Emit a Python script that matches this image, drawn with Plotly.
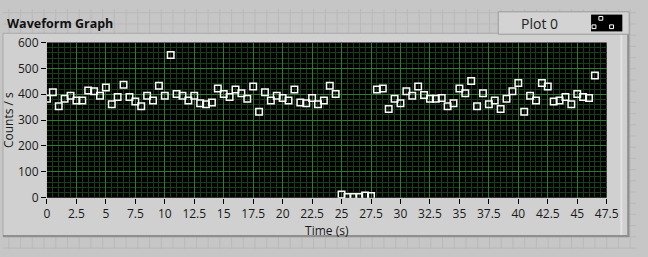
import plotly.graph_objects as go

# ---- data ----
dt = 0.5
counts = [383, 408, 354, 383, 394, 376, 376, 415, 412, 394,
          426, 361, 390, 437, 390, 372, 354, 394, 376, 433,
          394, 552, 401, 394, 376, 394, 365, 361, 368, 422,
          401, 390, 419, 404, 383, 430, 332, 408, 376, 394,
          386, 376, 419, 368, 365, 386, 361, 376, 433, 401,
          12, 2, 2, 2, 8, 6, 419, 422, 343, 383,
          365, 412, 394, 430, 397, 383, 383, 386, 354, 365,
          422, 404, 451, 354, 404, 361, 376, 343, 383, 412,
          444, 332, 394, 376, 444, 430, 372, 376, 390, 361,
          401, 390, 386, 473]
times = [i * dt for i in range(len(counts))]
x_ticks = [i * 2.5 for i in range(20)]
x_tick_labels = [("%g" % v) for v in x_ticks]
y_ticks = [0, 100, 200, 300, 400, 500, 600]
x_range = [0, 47.5]
y_range = [0, 600]

W, H = 648, 257
FONT = "Open Sans"
PLOT_L, PLOT_R, PLOT_T, PLOT_B = 45, 618, 36, 202

def px(x):
    return x / W

def py(y):
    return 1 - y / H

fig = go.Figure()
fig.add_trace(go.Scatter(
    x=times, y=counts, mode="markers", name="Plot 0",
    marker=dict(symbol="square-open", size=6.5, color="white",
                line=dict(width=1.5, color="white")),
    showlegend=False,
))

shapes = []
# panel background grid (LabVIEW front panel)
for gx in range(6, W, 12):
    shapes.append(dict(type="line", xref="paper", yref="paper",
                       x0=px(gx), x1=px(gx), y0=0, y1=1,
                       line=dict(color="#b9b9b9", width=1), layer="below"))
for gy in range(4, H, 12):
    shapes.append(dict(type="line", xref="paper", yref="paper",
                       x0=0, x1=1, y0=py(gy), y1=py(gy),
                       line=dict(color="#b9b9b9", width=1), layer="below"))
# graph frame
shapes.append(dict(type="rect", xref="paper", yref="paper",
                   x0=px(0), x1=px(641), y0=py(244), y1=py(26),
                   fillcolor="#d0d0d0", line=dict(color="#a8a8a8", width=1),
                   layer="below"))
shapes.append(dict(type="line", xref="paper", yref="paper",
                   x0=px(633), x1=px(633), y0=py(243), y1=py(27),
                   line=dict(color="#e2e2e2", width=2), layer="below"))
shapes.append(dict(type="line", xref="paper", yref="paper",
                   x0=px(640), x1=px(640), y0=py(244), y1=py(26),
                   line=dict(color="#8f8f8f", width=2), layer="below"))
shapes.append(dict(type="line", xref="paper", yref="paper",
                   x0=px(0), x1=px(641), y0=py(243), y1=py(243),
                   line=dict(color="#8f8f8f", width=2), layer="below"))
# plot area background (black) on top of the frame
shapes.append(dict(type="rect", xref="paper", yref="paper",
                   x0=px(PLOT_L), x1=px(PLOT_R), y0=py(PLOT_B), y1=py(PLOT_T),
                   fillcolor="black", line=dict(width=0), layer="below"))
# legend box
shapes.append(dict(type="rect", xref="paper", yref="paper",
                   x0=px(507), x1=px(641), y0=py(27), y1=py(3),
                   fillcolor="#d3d3d3", line=dict(color="#9a9a9a", width=1),
                   layer="below"))
shapes.append(dict(type="rect", xref="paper", yref="paper",
                   x0=px(602), x1=px(634), y0=py(24), y1=py(6),
                   fillcolor="black", line=dict(color="black", width=0)))
for (cx, cy) in [(612, 10), (605, 19), (623, 19)]:
    shapes.append(dict(type="rect", xref="paper", yref="paper",
                       x0=px(cx - 2), x1=px(cx + 2), y0=py(cy + 2), y1=py(cy - 2),
                       fillcolor="black", line=dict(color="white", width=1)))

annotations = [
    dict(text="<b>Waveform Graph</b>", xref="paper", yref="paper",
         x=px(2), y=py(16), xanchor="left", yanchor="middle", showarrow=False,
         font=dict(family=FONT, size=12.5, color="#111111")),
    dict(text="Plot 0", xref="paper", yref="paper",
         x=px(528), y=py(15), xanchor="left", yanchor="middle", showarrow=False,
         font=dict(family=FONT, size=14, color="#222222")),
]

fig.update_layout(
    width=W, height=H,
    margin=dict(l=0, r=0, t=0, b=0),
    paper_bgcolor="#c6c6c6",
    plot_bgcolor="black",
    font=dict(family=FONT, size=12, color="#1a1a1a"),
    shapes=shapes,
    annotations=annotations,
    xaxis=dict(
        domain=[px(PLOT_L), px(PLOT_R)], range=x_range,
        tickvals=x_ticks, ticktext=x_tick_labels,
        ticks="outside", ticklen=5, tickwidth=1, tickcolor="black",
        showgrid=True, gridcolor="#2a7d2a", gridwidth=1,
        minor=dict(dtick=0.5, showgrid=True, gridcolor="#173f17", gridwidth=1,
                   ticks=""),
        zeroline=False, showline=False,
        title=dict(text="Time (s)", font=dict(family=FONT, size=12), standoff=2),
        tickfont=dict(family=FONT, size=12),
    ),
    yaxis=dict(
        domain=[py(PLOT_B), py(PLOT_T)], range=y_range,
        tickvals=y_ticks,
        ticks="outside", ticklen=5, tickwidth=1, tickcolor="black",
        showgrid=True, gridcolor="#2a7d2a", gridwidth=1,
        minor=dict(dtick=20, showgrid=True, gridcolor="#173f17", gridwidth=1,
                   ticks=""),
        zeroline=False, showline=False,
        title=dict(text="Counts / s", font=dict(family=FONT, size=12), standoff=4),
        tickfont=dict(family=FONT, size=12),
    ),
)

fig.write_html("out.html")
